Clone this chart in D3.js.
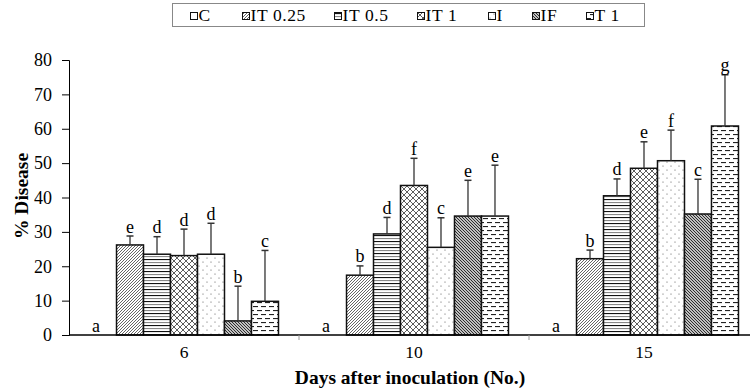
<!DOCTYPE html>
<html>
<head>
<meta charset="utf-8">
<script src="https://cdn.jsdelivr.net/npm/d3@7"></script>
<style>
  html, body { margin: 0; padding: 0; background: #fff; }
  svg { display: block; }
  svg text { font-family: "Liberation Serif", "DejaVu Serif", serif !important; fill: #000; }
</style>
</head>
<body>
<svg id="chart"></svg>
<script>
// Days after inoculation (groups)
const days = ["6", "10", "15"];
const treatments = ["C", "IT 0.25", "IT 0.5", "IT 1", "I", "IF", "T 1"];
const yTicks = [0, 10, 20, 30, 40, 50, 60, 70, 80];

// mean % disease for each treatment, one value per day
const meanC     = [0, 0, 0];
const meanIT025 = [26.2, 17.4, 22.2];
const meanIT05  = [23.5, 29.4, 40.5];
const meanIT1   = [23.1, 43.5, 48.5];
const meanI     = [23.5, 25.5, 50.7];
const meanIF    = [4.1, 34.6, 35.2];
const meanT1    = [9.8, 34.6, 60.8];

// error bar (upper only)
const errC     = [0, 0, 0];
const errIT025 = [2.6, 2.7, 2.5];
const errIT05  = [5.1, 4.8, 4.9];
const errIT1   = [7.7, 7.9, 7.7];
const errI     = [9.0, 8.6, 8.9];
const errIF    = [10.1, 10.4, 10.1];
const errT1    = [14.8, 14.8, 14.9];

// significance letters
const letC     = ["a", "a", "a"];
const letIT025 = ["e", "b", "b"];
const letIT05  = ["d", "d", "d"];
const letIT1   = ["d", "f", "e"];
const letI     = ["d", "c", "f"];
const letIF    = ["b", "e", "c"];
const letT1    = ["c", "e", "g"];

const means = [meanC, meanIT025, meanIT05, meanIT1, meanI, meanIF, meanT1];
const errs = [errC, errIT025, errIT05, errIT1, errI, errIF, errT1];
const letters = [letC, letIT025, letIT05, letIT1, letI, letIF, letT1];
const patternIds = ["pC", "pIT025", "pIT05", "pIT1", "pI", "pIF", "pT1"];

const width = 750, height = 392;
const plotLeft = 69, plotRight = 759, plotTop = 60, plotBottom = 335;

const svg = d3.select("#chart").attr("width", width).attr("height", height);
const defs = svg.append("defs");

// fill patterns (like the old Excel hatch fills)
function pattern(id, w, h) {
  return defs.append("pattern").attr("id", id)
    .attr("patternUnits", "userSpaceOnUse")
    .attr("width", w).attr("height", h);
}
function bg(p, w, h) {
  p.append("rect").attr("width", w).attr("height", h).attr("fill", "#fff");
}
let p;
p = pattern("pC", 4, 4); bg(p, 4, 4);

p = pattern("pIT025", 3, 3); bg(p, 3, 3);
p.append("path").attr("d", "M-1,1 L1,-1 M0,3 L3,0 M2,4 L4,2")
  .attr("stroke", "#555").attr("stroke-width", 0.9);

p = pattern("pIT05", 4, 6); bg(p, 4, 6);
p.append("rect").attr("x", 0).attr("y", 1).attr("width", 4).attr("height", 1.1).attr("fill", "#111");
p.append("rect").attr("x", 0).attr("y", 4).attr("width", 4).attr("height", 1.1).attr("fill", "#888");

p = pattern("pIT1", 6, 6); bg(p, 6, 6);
p.append("path").attr("d", "M0,0 L6,6 M6,0 L0,6")
  .attr("stroke", "#333").attr("stroke-width", 0.8);

p = pattern("pI", 8, 8); bg(p, 8, 8);
p.append("circle").attr("cx", 2).attr("cy", 2).attr("r", 0.6).attr("fill", "#555");
p.append("circle").attr("cx", 6).attr("cy", 6).attr("r", 0.6).attr("fill", "#555");

p = pattern("pIF", 3, 3); bg(p, 3, 3);
p.append("path").attr("d", "M-1,2 L1,4 M0,0 L3,3 M2,-1 L4,1")
  .attr("stroke", "#222").attr("stroke-width", 1.1);

p = pattern("pT1", 8, 8); bg(p, 8, 8);
p.append("rect").attr("x", 0).attr("y", 2).attr("width", 5).attr("height", 1.1).attr("fill", "#222");
p.append("rect").attr("x", 4).attr("y", 6).attr("width", 4).attr("height", 1.1).attr("fill", "#222");
p.append("rect").attr("x", 0).attr("y", 6).attr("width", 1).attr("height", 1.1).attr("fill", "#222");

// scales
const x0 = d3.scaleBand().domain(days).range([plotLeft, plotRight]).paddingInner(0).paddingOuter(0);
const x1 = d3.scaleBand().domain(d3.range(treatments.length))
  .range([0, x0.bandwidth()]).paddingInner(0).paddingOuter(0.76);
const y = d3.scaleLinear().domain([0, 80]).range([plotBottom, plotTop]);

// y axis
const yAxis = svg.append("g").attr("transform", `translate(${plotLeft},0)`)
  .call(d3.axisLeft(y).tickValues(yTicks).tickSize(7).tickPadding(10));
yAxis.select(".domain").attr("stroke", "#000");
yAxis.selectAll("text").attr("font-size", 18);

// y title
svg.append("text")
  .attr("transform", "translate(28,196) rotate(-90)")
  .attr("text-anchor", "middle")
  .attr("font-size", 19.5).attr("font-weight", "bold")
  .text("% Disease");

// bars
const groups = svg.append("g").selectAll("g")
  .data(days).join("g")
  .attr("transform", d => `translate(${x0(d)},0)`);

const cells = groups.selectAll("g.cell")
  .data((d, di) => treatments.map((t, ti) => ({
    ti, mean: means[ti][di], err: errs[ti][di], letter: letters[ti][di]
  })))
  .join("g").attr("class", "cell");

cells.filter(d => d.mean > 0).append("rect")
  .attr("x", d => x1(d.ti))
  .attr("y", d => y(d.mean))
  .attr("width", x1.bandwidth())
  .attr("height", d => y(0) - y(d.mean))
  .attr("fill", d => `url(#${patternIds[d.ti]})`)
  .attr("stroke", "#111").attr("stroke-width", 1.5);

// error bars
const eb = cells.filter(d => d.err > 0);
eb.append("line")
  .attr("x1", d => x1(d.ti) + x1.bandwidth() / 2)
  .attr("x2", d => x1(d.ti) + x1.bandwidth() / 2)
  .attr("y1", d => y(d.mean))
  .attr("y2", d => y(d.mean + d.err))
  .attr("stroke", "#333").attr("stroke-width", 1.3);
eb.append("line")
  .attr("x1", d => x1(d.ti) + x1.bandwidth() / 2 - 3.5)
  .attr("x2", d => x1(d.ti) + x1.bandwidth() / 2 + 3.5)
  .attr("y1", d => y(d.mean + d.err))
  .attr("y2", d => y(d.mean + d.err))
  .attr("stroke", "#333").attr("stroke-width", 1.5);

// letters
cells.append("text")
  .attr("x", d => x1(d.ti) + x1.bandwidth() / 2 + (d.mean === 0 ? -7 : 0))
  .attr("y", d => y(d.mean + d.err) - 3.5)
  .attr("text-anchor", "middle")
  .attr("font-size", 18)
  .text(d => d.letter);

// x axis
svg.append("line")
  .attr("x1", plotLeft).attr("x2", plotRight)
  .attr("y1", y(0)).attr("y2", y(0))
  .attr("stroke", "#000").attr("stroke-width", 1.3);
svg.append("g").selectAll("line")
  .data(days.slice(1)).join("line")
  .attr("x1", d => x0(d)).attr("x2", d => x0(d))
  .attr("y1", y(0)).attr("y2", y(0) + 5)
  .attr("stroke", "#999");
svg.append("g").selectAll("text")
  .data(days).join("text")
  .attr("x", d => x0(d) + x0.bandwidth() / 2)
  .attr("y", 358)
  .attr("text-anchor", "middle")
  .attr("font-size", 17.5)
  .text(d => d);

svg.append("text")
  .attr("x", 410).attr("y", 384)
  .attr("text-anchor", "middle")
  .attr("font-size", 19.5).attr("font-weight", "bold")
  .text("Days after inoculation (No.)");

// legend
const legendX = [190, 242, 334, 417, 488, 532, 586];
svg.append("rect")
  .attr("x", 172.5).attr("y", 3.5).attr("width", 472).attr("height", 23)
  .attr("fill", "none").attr("stroke", "#888").attr("stroke-width", 1);
const leg = svg.append("g").selectAll("g")
  .data(treatments).join("g")
  .attr("transform", (d, i) => `translate(${legendX[i]},0)`);
leg.append("rect")
  .attr("x", 0.5).attr("y", 12.5).attr("width", 7).attr("height", 7)
  .attr("fill", (d, i) => `url(#${patternIds[i]})`)
  .attr("stroke", "#111").attr("stroke-width", 1);
leg.append("text")
  .attr("x", 8.5).attr("y", 20.5)
  .attr("font-size", 17.5)
  .attr("letter-spacing", 0.6)
  .text(d => d);
</script>
</body>
</html>
